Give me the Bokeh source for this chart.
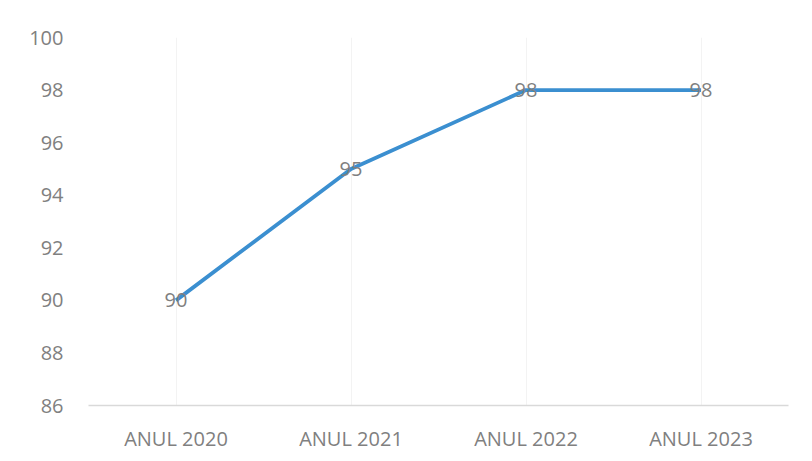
from bokeh.plotting import figure
from bokeh.models import ColumnDataSource, FactorRange, Range1d, FixedTicker
from bokeh.core.properties import value
from bokeh.embed import file_html
from bokeh.resources import INLINE

categories = ["ANUL 2020", "ANUL 2021", "ANUL 2022", "ANUL 2023"]
values = [90, 95, 98, 98]
labels = ["90", "95", "98", "98"]
y_ticks = [86, 88, 90, 92, 94, 96, 98, 100]

src = ColumnDataSource(dict(x=categories, y=values, lab=labels))

p = figure(x_range=FactorRange(*categories, range_padding=0), y_range=Range1d(86, 100),
           output_backend="svg", toolbar_location=None,
           min_border_left=88, min_border_right=8, min_border_top=37, min_border_bottom=40)
p.frame_width = 700
p.frame_height = 368
p.outline_line_color = None
p.background_fill_color = "white"
p.border_fill_color = "white"

p.line("x", "y", source=src, line_color="#3b8fd0", line_width=3.8)
p.text("x", "y", text="lab", source=src, text_align="center", text_baseline="middle",
       text_color="#7f7f7f", text_font_size="20px", text_font=value("Open Sans"))

p.yaxis.ticker = FixedTicker(ticks=y_ticks)
p.yaxis.axis_line_color = None
p.yaxis.major_tick_line_color = None
p.yaxis.major_tick_out = 0
p.yaxis.minor_tick_line_color = None
p.yaxis.major_label_standoff = 25
p.yaxis.major_label_text_font = "Open Sans"
p.yaxis.major_label_text_font_size = "20px"
p.yaxis.major_label_text_color = "#808080"

p.xaxis.axis_line_color = "#d9d9d9"
p.xaxis.axis_line_width = 1.5
p.xaxis.major_tick_line_color = None
p.xaxis.major_tick_out = 0
p.xaxis.minor_tick_line_color = None
p.xaxis.major_label_standoff = 19
p.xaxis.major_label_text_font = "Open Sans"
p.xaxis.major_label_text_font_size = "20px"
p.xaxis.major_label_text_color = "#808080"

p.ygrid.grid_line_color = None
p.xgrid.grid_line_color = "#f3f3f3"

open("out.html", "w").write(file_html(p, INLINE))
